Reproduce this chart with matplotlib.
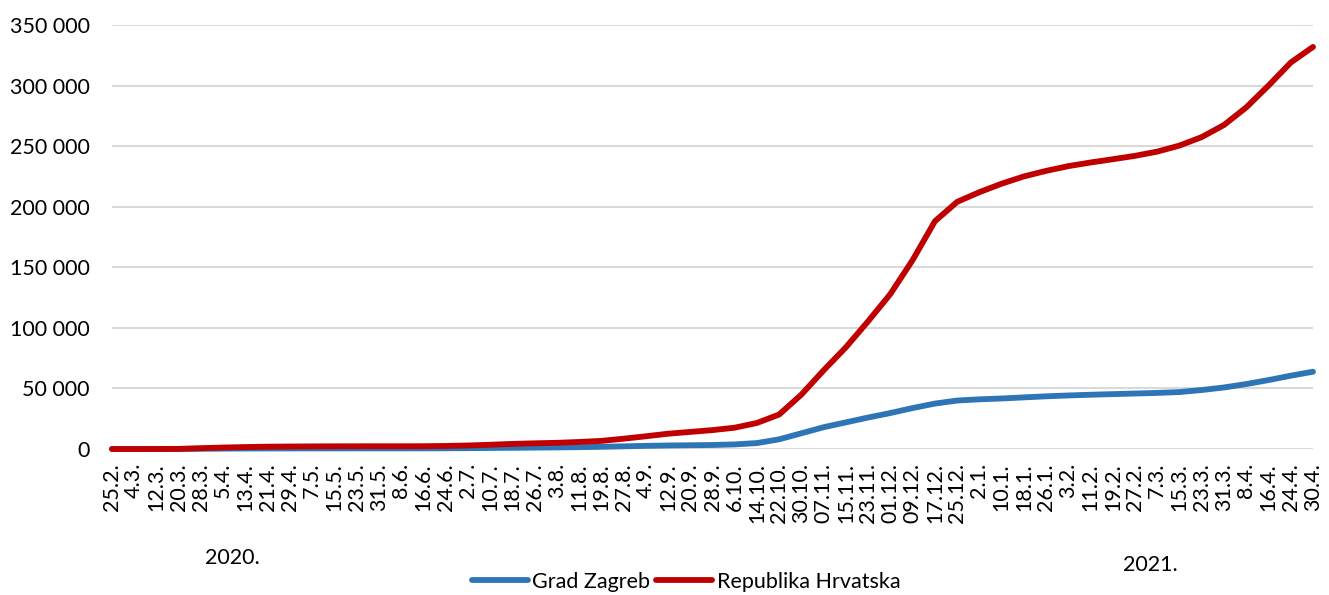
import matplotlib
matplotlib.use("Agg")
import matplotlib.pyplot as plt
import numpy as np

plt.rcParams['font.family'] = ['Lato', 'DejaVu Sans']

dates = ["25.2.", "4.3.", "12.3.", "20.3.", "28.3.", "5.4.", "13.4.", "21.4.", "29.4.", "7.5.",
         "15.5.", "23.5.", "31.5.", "8.6.", "16.6.", "24.6.", "2.7.", "10.7.", "18.7.", "26.7.",
         "3.8.", "11.8.", "19.8.", "27.8.", "4.9.", "12.9.", "20.9.", "28.9.", "6.10.", "14.10.",
         "22.10.", "30.10.", "07.11.", "15.11.", "23.11.", "01.12.", "09.12.", "17.12.", "25.12.", "2.1.",
         "10.1.", "18.1.", "26.1.", "3.2.", "11.2.", "19.2.", "27.2.", "7.3.", "15.3.", "23.3.",
         "31.3.", "8.4.", "16.4.", "24.4.", "30.4."]

zagreb = [0, 0, 5, 30, 150, 300, 400, 450, 480, 500,
          510, 515, 520, 525, 540, 600, 700, 850, 1000, 1150,
          1300, 1500, 1800, 2200, 2600, 2900, 3100, 3300, 3800, 4900,
          8000, 13000, 18000, 22000, 26000, 29700, 33800, 37500, 40000, 41000,
          41700, 42600, 43500, 44200, 44800, 45300, 45800, 46300, 47000, 48700,
          50800, 53600, 56900, 60500, 63800]

hrvatska = [0, 1, 20, 100, 700, 1200, 1600, 1900, 2050, 2150,
            2220, 2240, 2250, 2260, 2300, 2500, 2900, 3500, 4200, 4700,
            5100, 5800, 6700, 8500, 10500, 12600, 14100, 15600, 17600, 21500,
            28500, 45000, 65000, 84000, 105500, 128000, 156000, 188000, 204000, 212000,
            219000, 225000, 229600, 233500, 236500, 239200, 242000, 245500, 250500, 257500,
            267500, 282000, 300000, 319000, 331900]

series_names = ["Grad Zagreb", "Republika Hrvatska"]
yticks = [0, 50000, 100000, 150000, 200000, 250000, 300000, 350000]
year_labels = ["2020.", "2021."]

blue = "#2E75B6"
red = "#C00000"

fig = plt.figure(figsize=(13.29, 5.95), dpi=100)
ax = fig.add_axes([112/1329, 1 - 449/595, (1313 - 112)/1329, (449 - 25)/595])

x = np.arange(len(dates))
ax.plot(x, zagreb, color=blue, lw=4.2, solid_capstyle='round', solid_joinstyle='round',
        label=series_names[0], clip_on=False, zorder=3)
ax.plot(x, hrvatska, color=red, lw=4.2, solid_capstyle='round', solid_joinstyle='round',
        label=series_names[1], clip_on=False, zorder=4)

ax.set_xlim(0, len(dates) - 1)
ax.set_ylim(0, 350000)
ax.set_yticks(yticks)
ax.set_yticklabels([f"{v:,}".replace(",", " ") for v in yticks], fontsize=15.5)
ax.set_xticks(x)
ax.set_xticklabels(dates, rotation=90, fontsize=15.5, va='top')
ax.tick_params(axis='both', length=0)
ax.tick_params(axis='y', pad=16)
ax.tick_params(axis='x', pad=10)
for s in ax.spines.values():
    s.set_visible(False)
ax.grid(axis='y', color='#d9d9d9', lw=1.5, zorder=0)
ax.set_axisbelow(True)

fig.text(232/1329, 1 - 558/595, year_labels[0], fontsize=15.5, ha='center', va='center')
fig.text(1150/1329, 1 - 565/595, year_labels[1], fontsize=15.5, ha='center', va='center')

leg = fig.legend(loc='center', bbox_to_anchor=(686/1329, 1 - 582/595), ncol=2, frameon=False,
                 fontsize=15.5, handlelength=2.6, handletextpad=0.2, columnspacing=0.3,
                 borderpad=0, borderaxespad=0)
for line in leg.get_lines():
    line.set_linewidth(4.2)

fig.savefig("out.png", dpi=100)
